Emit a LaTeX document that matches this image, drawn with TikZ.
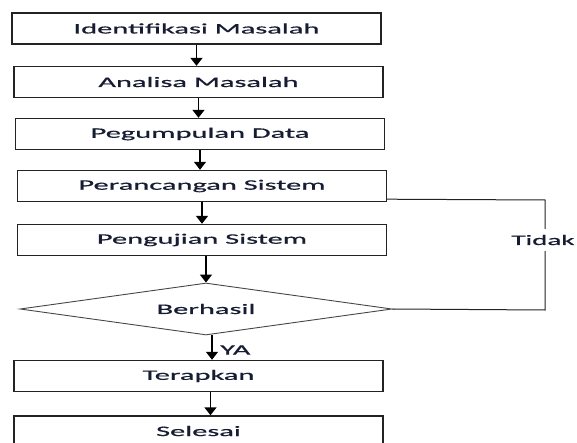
\documentclass[tikz,border=0pt]{standalone}
\usepackage{fontspec}
\setmainfont{Carlito}
\newfontfamily\mfont[FakeBold=0.5]{Carlito}
\usetikzlibrary{arrows.meta,shapes.geometric,calc}
\definecolor{txt}{RGB}{22,28,50}
\definecolor{edge}{RGB}{35,35,35}
\definecolor{dedge}{RGB}{70,70,70}
\newcommand{\wt}[1]{\scalebox{2.1}[1]{#1}}
\begin{document}
\begin{tikzpicture}[x=1pt,y=-1pt,
  box/.style={draw=edge,line width=1.4pt,minimum width=369pt,minimum height=31pt,inner sep=0pt,font=\mfont\fontsize{14.5}{17}\selectfont,text=txt},
  dec/.style={draw=dedge,line width=0.9pt,shape=diamond,shape aspect=7.15,minimum width=372pt,minimum height=52pt,inner sep=0pt,font=\mfont\fontsize{14.5}{17}\selectfont,text=txt},
  lbl/.style={font=\mfont\fontsize{14.5}{17}\selectfont,text=txt,inner sep=1pt},
  arr/.style={-{Triangle[width=12pt,length=8pt]},line width=1.5pt,draw=black},
  fb/.style={line width=1pt,draw=edge}]
\useasboundingbox (0,0) rectangle (577,443);
\clip (0,0) rectangle (577,443);
\node[box] (b1) at (196.5,28.5) {\wt{Identifikasi Masalah}};
\node[box] (b2) at (198.5,82) {\wt{Analisa Masalah}};
\node[box] (b3) at (200,134) {\wt{Pegumpulan Data}};
\node[box] (b4) at (202,186) {\wt{Perancangan Sistem}};
\node[box] (b5) at (202,240) {\wt{Pengujian Sistem}};
\node[dec] (d) at (206,309) {\wt{Berhasil}};
\node[box] (t) at (198.5,376) {\wt{Terapkan}};
\node[box,minimum height=32pt] (s) at (198.5,432) {\raisebox{2pt}{\wt{Selesai}}};
\draw[arr] (b1.south) -- (b1.south |- b2.north);
\draw[arr] (b2.south) -- (b2.south |- b3.north);
\draw[arr] (b3.south) -- (b3.south |- b4.north);
\draw[arr] (b4.south) -- (b4.south |- b5.north);
\draw[arr] (d.north |- b5.south) -- (d.north);
\draw[arr] ([xshift=6pt]d.south) -- ([xshift=6pt]d.south |- t.north);
\draw[arr] ([xshift=12pt]t.south) -- ([xshift=12pt]t.south |- s.north);
\coordinate (fa) at (545,200);
\coordinate (fz) at (545,310);
\draw[fb] ([yshift=3pt]b4.south east) -- (fa) -- (fz) -- (d.east);
\node[lbl,fill=white,minimum height=22pt] (tidak) at (543,240) {\scalebox{2.0}[1]{Tidak}};
\node[lbl,anchor=west] (ya) at (219,350) {\wt{YA}};
\end{tikzpicture}
\end{document}
